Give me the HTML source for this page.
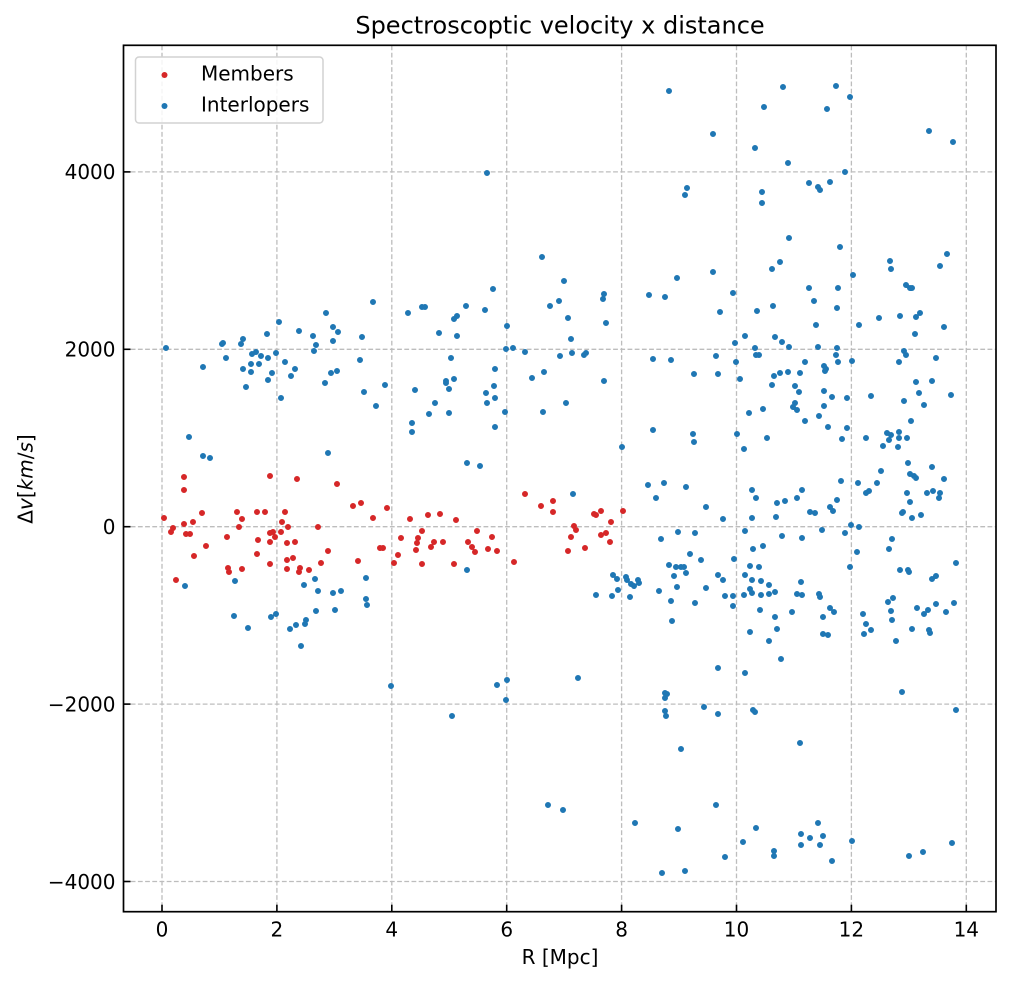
<!DOCTYPE html>
<html>
<head>
<meta charset="utf-8">
<style>
  html,body{margin:0;padding:0;background:#fff;}
  svg{display:block;}
  text{font-family:"DejaVu Sans","Liberation Sans",sans-serif;fill:#000;}
</style>
</head>
<body>
<svg width="1011" height="983" viewBox="0 0 1011 983" xmlns="http://www.w3.org/2000/svg">
  <rect x="0" y="0" width="1011" height="983" fill="#fff"/>

  <!-- grid -->
  <g stroke="#bdbdbd" stroke-width="1.3" stroke-dasharray="4.8 2.4" fill="none">
    <line x1="162" y1="45.5" x2="162" y2="911.5"/>
    <line x1="276.9" y1="45.5" x2="276.9" y2="911.5"/>
    <line x1="391.8" y1="45.5" x2="391.8" y2="911.5"/>
    <line x1="506.7" y1="45.5" x2="506.7" y2="911.5"/>
    <line x1="621.6" y1="45.5" x2="621.6" y2="911.5"/>
    <line x1="736.5" y1="45.5" x2="736.5" y2="911.5"/>
    <line x1="851.4" y1="45.5" x2="851.4" y2="911.5"/>
    <line x1="966.3" y1="45.5" x2="966.3" y2="911.5"/>
    <line x1="123.5" y1="171.9" x2="996" y2="171.9"/>
    <line x1="123.5" y1="349.3" x2="996" y2="349.3"/>
    <line x1="123.5" y1="526.7" x2="996" y2="526.7"/>
    <line x1="123.5" y1="704.1" x2="996" y2="704.1"/>
    <line x1="123.5" y1="881.5" x2="996" y2="881.5"/>
  </g>

  <!-- Members (red) -->
  <path fill="none" stroke="#d62728" stroke-width="6" stroke-linecap="round" d="
M164 518h0M173 528h0M171 532h0M184 477h0M184 490h0M184 524h0M186 534h0M190 534h0M193 522h0M202 513h0M206 546h0M194 556h0M176 580h0
M227 537h0M237 512h0M242 519h0M239 527h0M228 568h0M229 572h0M242 569h0M257 512h0M265 512h0M258 540h0M257 554h0M270 476h0
M270 533h0M273 532h0M275 537h0M270 542h0M282 522h0M281 532h0M288 527h0M285 512h0M270 564h0M287 543h0M295 542h0M287 560h0M293 558h0M287 569h0
M297 479h0M300 568h0M299 572h0M309 570h0M318 527h0M328 551h0M321 563h0M337 484h0M353 506h0M361 503h0M373 518h0M387 508h0M358 561h0
M380 548h0M383 548h0M398 555h0M394 563h0M401 538h0M410 519h0M418 538h0M417 543h0M416 550h0M422 531h0M422 564h0
M428 515h0M440 514h0M456 520h0M434 542h0M431 547h0M443 542h0M468 542h0M472 547h0M475 552h0M477 531h0M492 537h0M488 549h0M497 551h0
M454 564h0M514 562h0M525 494h0M541 506h0M553 501h0M553 512h0M574 526h0M576 530h0M571 537h0M568 551h0M585 548h0M594 514h0M596 515h0
M601 511h0M611 522h0M601 535h0M606 533h0M610 542h0M623 511h0"/>

  <!-- Interlopers (blue) -->
  <path fill="none" stroke="#1f77b4" stroke-width="6" stroke-linecap="round" d="
M166 348h0M223 343h0M222 344h0M243 339h0M241 344h0M267 334h0M299 331h0M313 336h0M338 332h0M333 341h0M316 345h0M314 351h0M362 337h0
M203 367h0M226 358h0M252 354h0M256 352h0M261 356h0M268 358h0M276 353h0M251 364h0M259 364h0M243 369h0M251 372h0M285 362h0M295 369h0
M291 376h0M272 373h0M268 380h0M246 387h0M281 398h0M325 383h0M331 373h0M337 371h0M360 360h0M364 392h0M385 385h0M415 390h0M376 406h0
M412 423h0M412 432h0M189 437h0M203 456h0M210 458h0M328 453h0
M185 586h0M235 581h0M315 579h0M304 585h0M318 591h0M333 593h0M341 591h0M366 578h0M366 599h0M367 605h0M234 616h0M248 628h0M271 617h0
M276 614h0M316 611h0M335 610h0M290 629h0M296 625h0M305 624h0M306 620h0M301 646h0
M373 302h0M326 313h0M279 322h0M333 327h0M408 313h0M391 686h0
M669 91h0M713 134h0M487 173h0M687 188h0M685 195h0
M422 307h0M425 307h0M439 333h0M454 319h0M457 316h0M466 306h0M485 310h0M493 289h0M457 336h0M451 358h0M507 326h0M506 349h0M513 348h0
M525 352h0M542 257h0M564 281h0M550 306h0M559 301h0M568 318h0M571 339h0M560 356h0M572 353h0M584 355h0M586 353h0M604 294h0M603 299h0
M606 323h0M604 381h0M649 295h0M665 297h0M677 278h0M713 272h0M653 359h0M671 360h0M694 374h0M495 369h0M494 386h0M486 393h0M495 398h0
M487 403h0M446 381h0M446 383h0M449 389h0M454 379h0M435 403h0M429 414h0M449 413h0M505 412h0M495 427h0M532 378h0M544 372h0M543 412h0
M566 403h0M467 463h0M480 466h0M573 494h0M622 447h0M653 430h0M693 434h0M694 442h0M648 485h0M664 483h0M656 498h0M686 487h0M706 507h0
M661 539h0M678 532h0M695 533h0M690 554h0M701 560h0M669 565h0M676 567h0M681 567h0M684 567h0M686 573h0M467 570h0
M783 87h0M836 86h0M850 97h0M764 107h0M827 109h0M929 131h0M953 142h0M755 148h0M788 163h0M845 172h0M809 183h0M818 187h0M820 190h0
M830 182h0M762 192h0M762 203h0M789 238h0M840 247h0M780 262h0M772 269h0M890 261h0M891 269h0M947 254h0M940 266h0M853 275h0M733 293h0
M809 288h0M838 288h0M814 301h0M906 285h0M910 288h0M912 288h0M720 312h0M757 311h0M773 306h0M837 308h0M816 325h0M859 325h0M879 318h0
M900 316h0M916 317h0M920 313h0M944 327h0M915 334h0M745 336h0M775 337h0
M782 342h0M789 347h0M735 343h0M755 348h0M756 355h0M759 355h0M818 347h0M837 348h0M836 355h0M838 362h0M716 356h0M736 362h0M805 362h0
M852 361h0M904 351h0M906 355h0M899 362h0M936 358h0M718 374h0M740 379h0M774 376h0M780 373h0M788 372h0M800 373h0M772 385h0M824 366h0
M826 369h0M825 371h0M795 386h0M799 392h0M824 391h0M832 397h0M847 398h0M871 396h0M916 382h0M932 381h0M919 393h0M904 401h0M924 405h0
M951 395h0M749 413h0M763 409h0M795 403h0M793 407h0M797 410h0M824 406h0M819 416h0M805 421h0M828 427h0M847 428h0M842 439h0M911 421h0
M737 434h0M744 449h0M767 438h0M866 438h0M887 433h0M891 435h0M889 440h0M899 432h0M899 438h0M907 438h0M883 446h0M898 447h0M908 463h0
M910 474h0M914 476h0M916 478h0M932 467h0M944 479h0M881 471h0M877 483h0M866 493h0M869 491h0M858 483h0M841 481h0M907 493h0M910 502h0
M927 493h0M933 491h0M940 493h0M939 498h0M902 513h0M903 512h0M912 518h0M921 515h0M752 490h0M756 498h0M802 490h0M797 498h0M777 503h0
M785 501h0M837 500h0M830 507h0M833 511h0M810 512h0M815 513h0M723 519h0M752 518h0M776 517h0M851 525h0M859 527h0M745 531h0M822 530h0
M845 533h0M782 536h0M802 538h0M892 539h0M889 549h0M763 546h0M753 549h0M857 552h0M734 559h0M750 566h0M759 567h0M850 567h0M956 563h0
M900 570h0M908 570h0M909 572h0M718 575h0M723 580h0M745 575h0M752 580h0M761 581h0M769 585h0M801 582h0M932 579h0M936 576h0M750 589h0
M752 593h0M744 595h0M761 595h0M769 594h0M775 592h0M725 596h0M733 596h0M797 594h0M802 595h0M819 594h0M820 597h0M733 606h0M760 610h0
M792 612h0M830 608h0M834 612h0M775 617h0M823 617h0M863 614h0M888 602h0M893 598h0M891 611h0M892 620h0M917 608h0M928 610h0M924 614h0
M936 604h0M946 612h0M954 603h0M866 624h0M871 630h0M864 634h0M912 629h0M929 630h0M930 633h0M750 632h0M777 629h0M769 641h0M823 634h0
M828 635h0M896 641h0
M613 575h0M617 579h0M596 595h0M612 596h0M618 590h0M626 577h0M627 580h0M631 584h0M634 586h0M638 580h0M639 583h0M630 597h0M674 576h0
M677 587h0M659 591h0M671 601h0M672 621h0M695 603h0M706 588h0M718 668h0M578 678h0M497 685h0M507 680h0M506 700h0M452 716h0M665 693h0
M667 694h0M665 698h0M665 711h0M666 716h0M704 707h0M718 714h0M681 749h0M548 805h0M563 810h0M635 823h0M678 829h0M716 805h0M662 873h0
M685 871h0
M745 673h0M781 659h0M902 692h0M956 710h0M753 710h0M755 712h0M800 743h0M756 828h0M743 842h0M725 857h0M774 851h0M774 856h0M801 834h0
M801 845h0M810 838h0M818 823h0M823 836h0M820 845h0M832 861h0M852 841h0M909 856h0M923 852h0M952 843h0"/>

  <!-- spines -->
  <rect x="123.5" y="45.3" width="872.5" height="866.4" fill="none" stroke="#000" stroke-width="1.7"/>

  <!-- ticks (inward) -->
  <g stroke="#000" stroke-width="1.6">
    <line x1="123.5" y1="171.9" x2="130.5" y2="171.9"/>
    <line x1="123.5" y1="349.3" x2="130.5" y2="349.3"/>
    <line x1="123.5" y1="526.7" x2="130.5" y2="526.7"/>
    <line x1="123.5" y1="704.1" x2="130.5" y2="704.1"/>
    <line x1="123.5" y1="881.5" x2="130.5" y2="881.5"/>
    <line x1="162" y1="911.7" x2="162" y2="904.7"/>
    <line x1="276.9" y1="911.7" x2="276.9" y2="904.7"/>
    <line x1="391.8" y1="911.7" x2="391.8" y2="904.7"/>
    <line x1="506.7" y1="911.7" x2="506.7" y2="904.7"/>
    <line x1="621.6" y1="911.7" x2="621.6" y2="904.7"/>
    <line x1="736.5" y1="911.7" x2="736.5" y2="904.7"/>
    <line x1="851.4" y1="911.7" x2="851.4" y2="904.7"/>
    <line x1="966.3" y1="911.7" x2="966.3" y2="904.7"/>
  </g>

  <!-- y tick labels -->
  <g font-size="20" text-anchor="end">
    <text x="115.5" y="179.2">4000</text>
    <text x="115.5" y="356.6">2000</text>
    <text x="115.5" y="534">0</text>
    <text x="115.5" y="711.4">−2000</text>
    <text x="115.5" y="888.8">−4000</text>
  </g>

  <!-- x tick labels -->
  <g font-size="20" text-anchor="middle">
    <text x="162" y="936.5">0</text>
    <text x="276.9" y="936.5">2</text>
    <text x="391.8" y="936.5">4</text>
    <text x="506.7" y="936.5">6</text>
    <text x="621.6" y="936.5">8</text>
    <text x="736.5" y="936.5">10</text>
    <text x="851.4" y="936.5">12</text>
    <text x="966.3" y="936.5">14</text>
  </g>

  <!-- axis labels -->
  <text x="560" y="964" font-size="20" text-anchor="middle">R [Mpc]</text>
  <text transform="translate(32.5,479) rotate(-90)" font-size="20" text-anchor="middle">Δ<tspan font-style="italic">v</tspan>[<tspan font-style="italic">km</tspan>/<tspan font-style="italic">s</tspan>]</text>

  <!-- title -->
  <text x="560" y="33.3" font-size="24" text-anchor="middle">Spectroscoptic velocity x distance</text>

  <!-- legend -->
  <rect x="135.5" y="57" width="187.5" height="66" rx="3.5" ry="3.5" fill="#fff" fill-opacity="0.85" stroke="#d2d2d2" stroke-width="1.5"/>
  <circle cx="164.5" cy="75" r="3" fill="#d62728"/>
  <circle cx="164.5" cy="106" r="3" fill="#1f77b4"/>
  <text x="201" y="80.7" font-size="20">Members</text>
  <text x="201" y="111.7" font-size="20">Interlopers</text>
</svg>
</body>
</html>
